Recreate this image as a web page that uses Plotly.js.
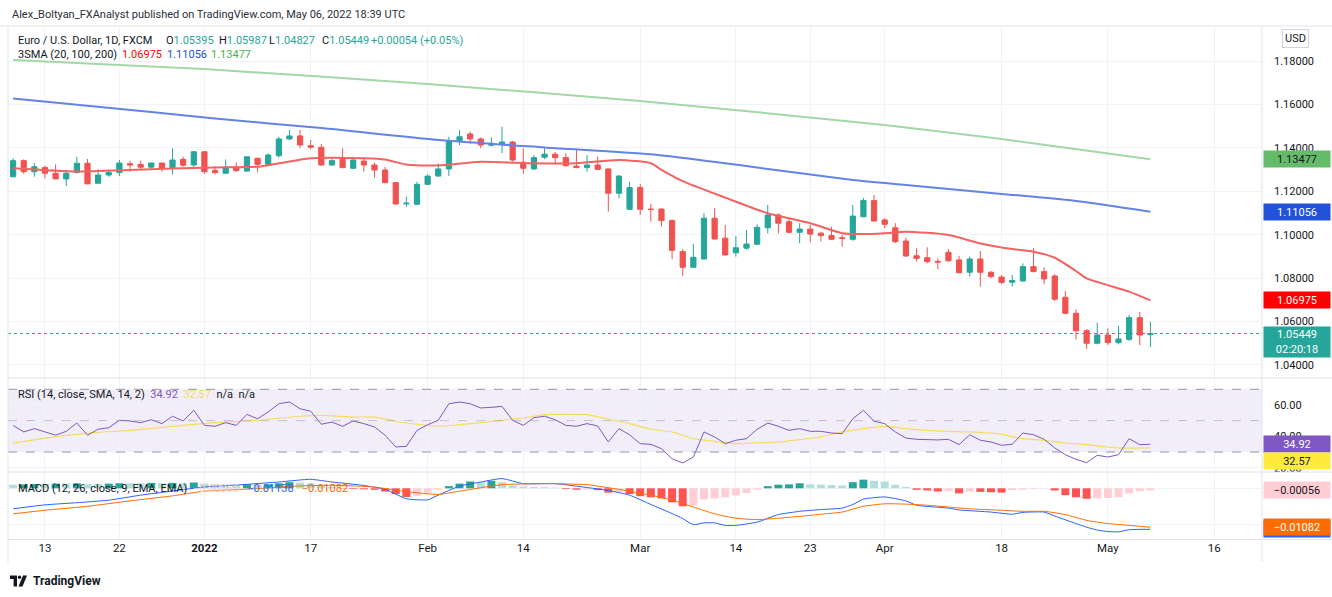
<!DOCTYPE html>
<html><head><meta charset="utf-8">
<script src="https://cdn.plot.ly/plotly-3.0.1.min.js"></script>
<style>html,body{margin:0;padding:0;background:#fff;}#chart{width:1332px;height:597px;}</style>
</head><body><div id="chart"></div>
<script>
const dates = [
'2021-12-08','2021-12-09','2021-12-10',
'2021-12-13','2021-12-14','2021-12-15','2021-12-16','2021-12-17',
'2021-12-20','2021-12-21','2021-12-22','2021-12-23','2021-12-24',
'2021-12-27','2021-12-28','2021-12-29','2021-12-30','2021-12-31',
'2022-01-03','2022-01-04','2022-01-05','2022-01-06','2022-01-07',
'2022-01-10','2022-01-11','2022-01-12','2022-01-13','2022-01-14',
'2022-01-17','2022-01-18','2022-01-19','2022-01-20','2022-01-21',
'2022-01-24','2022-01-25','2022-01-26','2022-01-27','2022-01-28',
'2022-01-31','2022-02-01','2022-02-02','2022-02-03','2022-02-04',
'2022-02-07','2022-02-08','2022-02-09','2022-02-10','2022-02-11',
'2022-02-14','2022-02-15','2022-02-16','2022-02-17','2022-02-18',
'2022-02-21','2022-02-22','2022-02-23','2022-02-24','2022-02-25',
'2022-02-28','2022-03-01','2022-03-02','2022-03-03','2022-03-04',
'2022-03-07','2022-03-08','2022-03-09','2022-03-10','2022-03-11',
'2022-03-14','2022-03-15','2022-03-16','2022-03-17','2022-03-18',
'2022-03-21','2022-03-22','2022-03-23','2022-03-24','2022-03-25',
'2022-03-28','2022-03-29','2022-03-30','2022-03-31','2022-04-01',
'2022-04-04','2022-04-05','2022-04-06','2022-04-07','2022-04-08',
'2022-04-11','2022-04-12','2022-04-13','2022-04-14','2022-04-15',
'2022-04-18','2022-04-19','2022-04-20','2022-04-21','2022-04-22',
'2022-04-25','2022-04-26','2022-04-27','2022-04-28','2022-04-29',
'2022-05-02','2022-05-03','2022-05-04','2022-05-05','2022-05-06'];

const openP = [
1.1267,1.1341,1.1290,
1.1309,1.1283,1.1257,1.1286,1.1329,
1.1237,1.1275,1.1286,1.1327,1.1324,
1.1311,1.1330,1.1309,1.1347,1.1321,
1.1382,1.1296,1.1283,1.1311,1.1293,
1.1352,1.1324,1.1364,1.1441,1.1455,
1.1410,1.1403,1.1321,1.1347,1.1306,
1.1339,1.1321,1.1298,1.1240,1.1142,
1.1140,1.1232,1.1270,1.1303,1.1433,
1.1464,1.1441,1.1412,1.1418,1.1427,
1.1334,1.1303,1.1357,1.1371,1.1355,
1.1316,1.1309,1.1321,1.1303,1.1191,
1.1117,1.1217,1.1118,1.1118,1.1065,
1.0922,1.0850,1.0888,1.1076,1.0984,
1.0917,1.0938,1.0956,1.1032,1.1091,
1.1060,1.1011,1.1026,1.1007,1.0996,
1.0986,1.0979,1.1083,1.1157,1.1068,
1.1032,1.0971,1.0903,1.0894,1.0877,
1.0919,1.0884,1.0827,1.0888,1.0827,
1.0805,1.0781,1.0787,1.0853,1.0830,
1.0810,1.0712,1.0638,1.0558,1.0500,
1.0538,1.0503,1.0518,1.0618,1.05395];

const highP = [
1.1352,1.1347,1.1330,
1.1318,1.1324,1.1298,1.1359,1.1349,
1.1301,1.1301,1.1344,1.1341,1.1341,
1.1332,1.1332,1.1398,1.1359,1.1386,
1.1386,1.1316,1.1347,1.1332,1.1359,
1.1355,1.1375,1.1451,1.1482,1.1482,
1.1436,1.1418,1.1357,1.1398,1.1359,
1.1352,1.1332,1.1313,1.1244,1.1175,
1.1244,1.1277,1.1329,1.1451,1.1482,
1.1476,1.1448,1.1448,1.1497,1.1432,
1.1398,1.1367,1.1398,1.1382,1.1375,
1.1390,1.1367,1.1359,1.1306,1.1275,
1.1244,1.1234,1.1142,1.1124,1.1071,
1.0934,1.0957,1.1099,1.1122,1.1045,
1.0994,1.1022,1.1048,1.1137,1.1099,
1.1071,1.1053,1.1045,1.1014,1.1037,
1.0999,1.1137,1.1170,1.1183,1.1076,
1.1053,1.0986,1.0937,1.0942,1.0891,
1.0934,1.0903,1.0899,1.0925,1.0833,
1.0815,1.0815,1.0868,1.0937,1.0850,
1.0818,1.0741,1.0657,1.0565,1.0595,
1.0569,1.0580,1.0630,1.0645,1.05987];

const lowP = [
1.1264,1.1280,1.1267,
1.1260,1.1255,1.1224,1.1283,1.1234,
1.1237,1.1267,1.1270,1.1290,1.1301,
1.1301,1.1290,1.1277,1.1313,1.1306,
1.1280,1.1278,1.1280,1.1290,1.1290,
1.1288,1.1321,1.1355,1.1436,1.1398,
1.1394,1.1318,1.1318,1.1306,1.1303,
1.1290,1.1263,1.1237,1.1137,1.1129,
1.1137,1.1230,1.1268,1.1270,1.1413,
1.1418,1.1398,1.1406,1.1375,1.1336,
1.1280,1.1298,1.1349,1.1324,1.1313,
1.1306,1.1290,1.1298,1.1106,1.1168,
1.1114,1.1091,1.1060,1.1037,1.0887,
1.0810,1.0850,1.0888,1.0980,1.0903,
1.0899,1.0930,1.0953,1.1006,1.1006,
1.1006,1.0961,1.0965,1.0968,1.0976,
1.0945,1.0972,1.1080,1.1060,1.1030,
1.0961,1.0899,1.0876,1.0868,1.0841,
1.0876,1.0822,1.0807,1.0761,1.0799,
1.0772,1.0761,1.0784,1.0827,1.0772,
1.0695,1.0635,1.0518,1.0474,1.0495,
1.0492,1.0495,1.0510,1.0492,1.04827];

const closeP = [
1.1341,1.1290,1.1313,
1.1283,1.1257,1.1283,1.1329,1.1234,
1.1275,1.1286,1.1330,1.1321,1.1311,
1.1330,1.1306,1.1344,1.1320,1.1382,
1.1290,1.1286,1.1311,1.1295,1.1359,
1.1324,1.1367,1.1441,1.1455,1.1413,
1.1403,1.1321,1.1341,1.1309,1.1344,
1.1321,1.1298,1.1240,1.1142,1.1145,
1.1232,1.1270,1.1303,1.1433,1.1451,
1.1441,1.1413,1.1421,1.1427,1.1344,
1.1306,1.1355,1.1371,1.1355,1.1318,
1.1309,1.1321,1.1301,1.1191,1.1270,
1.1217,1.1117,1.1116,1.1065,1.0928,
1.0850,1.0896,1.1076,1.0980,1.0907,
1.0940,1.0957,1.1034,1.1091,1.1053,
1.1011,1.1026,1.1003,1.0996,1.0979,
1.0983,1.1086,1.1157,1.1063,1.1048,
1.0968,1.0902,1.0891,1.0876,1.0874,
1.0880,1.0825,1.0888,1.0827,1.0807,
1.0780,1.0789,1.0853,1.0830,1.0796,
1.0703,1.0638,1.0558,1.0500,1.0538,
1.0503,1.0520,1.0618,1.0538,1.05449];

const sma20Dates = ['2021-12-08','2021-12-16','2021-12-23','2021-12-29','2022-01-04','2022-01-10','2022-01-17','2022-01-24','2022-01-26','2022-01-28','2022-02-02','2022-02-08','2022-02-15','2022-02-21','2022-02-25','2022-03-02','2022-03-03','2022-03-07','2022-03-11','2022-03-17','2022-03-23','2022-03-28','2022-03-30','2022-04-01','2022-04-05','2022-04-11','2022-04-14','2022-04-19','2022-04-21','2022-04-25','2022-04-27','2022-04-28','2022-05-02','2022-05-04','2022-05-06'];
const sma20 = [1.1306,1.1291,1.1298,1.1305,1.1310,1.1313,1.1352,1.1352,1.1346,1.1323,1.1319,1.1336,1.1329,1.1329,1.1344,1.1329,1.1299,1.1247,1.1171,1.1099,1.1053,1.1007,1.1003,1.1007,1.1014,1.0999,1.0960,1.0934,1.0922,1.0894,1.0833,1.0799,1.0768,1.0738,1.06975];

const sma100Dates = ['2021-12-08','2021-12-27','2022-01-04','2022-01-18','2022-02-02','2022-02-16','2022-03-02','2022-03-15','2022-03-29','2022-04-05','2022-04-18','2022-04-27','2022-05-06'];
const sma100 = [1.1627,1.1565,1.1535,1.1491,1.1436,1.1402,1.1370,1.1316,1.1252,1.1229,1.1188,1.1155,1.11056];

const sma200Dates = ['2021-12-08','2022-01-03','2022-02-01','2022-03-01','2022-04-01','2022-04-18','2022-05-06'];
const sma200 = [1.1805,1.1763,1.1694,1.1616,1.1505,1.1441,1.13477];

const rsi = [
47.0,42.8,44.9,
42.8,40.7,43.2,48.5,40.7,
44.5,45.5,50.2,49.8,48.7,
50.6,48.1,52.8,49.8,56.6,
47.0,46.4,48.7,47.0,54.0,
51.2,55.5,60.8,61.9,57.6,
56.0,47.7,49.1,46.4,49.8,
48.1,46.0,40.7,33.2,33.6,
43.8,47.4,50.2,60.8,61.9,
60.8,58.1,58.5,59.1,50.2,
47.0,51.9,52.8,50.6,47.0,
46.4,48.1,46.6,36.4,44.9,
41.0,35.3,34.9,32.1,25.7,
23.0,26.8,42.8,39.6,35.3,
37.5,38.5,44.5,48.5,46.4,
43.8,44.9,43.2,43.2,42.1,
41.7,51.2,56.6,49.6,48.1,
42.8,38.9,38.1,37.7,37.7,
38.1,34.7,41.0,37.5,36.4,
34.3,34.9,42.1,41.0,38.1,
32.6,28.3,25.3,23.2,27.9,
26.8,28.3,38.5,34.7,34.92];

const rsiSmaDates = ['2021-12-08','2021-12-13','2021-12-17','2021-12-23','2021-12-29','2022-01-04','2022-01-10','2022-01-14','2022-01-18','2022-01-21','2022-01-25','2022-01-27','2022-01-31','2022-02-02','2022-02-04','2022-02-08','2022-02-10','2022-02-14','2022-02-16','2022-02-18','2022-02-22','2022-02-24','2022-02-28','2022-03-02','2022-03-04','2022-03-08','2022-03-10','2022-03-14','2022-03-16','2022-03-18','2022-03-22','2022-03-24','2022-03-28','2022-03-30','2022-04-01','2022-04-05','2022-04-07','2022-04-11','2022-04-13','2022-04-18','2022-04-20','2022-04-22','2022-04-26','2022-04-28','2022-05-02','2022-05-03','2022-05-06'];
const rsiSma = [35.7,38.9,42.1,43.8,46.4,48.7,50.2,52.8,53.4,52.3,52.3,49.6,47.7,46.6,47.4,48.7,50.2,51.7,53.8,54.0,53.8,50.9,48.1,44.5,42.8,38.5,36.8,35.3,35.9,36.4,37.9,39.6,42.8,44.9,46.4,44.9,43.8,43.2,42.8,41.3,38.5,37.5,35.7,34.7,33.2,32.6,32.57];

const macdHist = [
0.0010,0.0011,0.0012,
0.0012,0.0013,0.0013,0.0014,0.0012,
0.0012,0.0013,0.0014,0.0014,0.0014,
0.0015,0.0014,0.0015,0.0014,0.0016,
0.0013,0.0011,0.0010,0.0009,0.0011,
0.0010,0.0011,0.0014,0.0017,0.0016,
0.0014,0.0008,0.0004,-0.0001,-0.0002,
-0.0003,-0.0004,-0.0009,-0.0016,-0.0024,
-0.0021,-0.0012,-0.0004,0.0006,0.0013,
0.0019,0.0017,0.0021,0.0017,0.0008,
0.0005,0.0004,0.0003,0.0002,-0.0002,
-0.0004,-0.0003,-0.0005,-0.0012,-0.0010,
-0.0016,-0.0022,-0.0025,-0.0028,-0.0039,
-0.0050,-0.0048,-0.0031,-0.0028,-0.0025,
-0.0020,-0.0013,-0.0004,0.0006,0.0010,
0.0011,0.0014,0.0011,0.0010,0.0009,
0.0008,0.0017,0.0024,0.0021,0.0019,
0.0010,0.0004,-0.0004,-0.0006,-0.0009,
-0.0008,-0.0014,-0.0009,-0.0010,-0.0011,
-0.0012,-0.0005,-0.0004,-0.0002,-0.0001,
-0.0006,-0.0019,-0.0025,-0.0029,-0.0028,
-0.0027,-0.0025,-0.0014,-0.0008,-0.00056];

const macdDates = ['2021-12-08','2021-12-13','2021-12-16','2021-12-21','2021-12-24','2021-12-29','2022-01-03','2022-01-07','2022-01-12','2022-01-17','2022-01-19','2022-01-24','2022-01-26','2022-01-28','2022-02-01','2022-02-02','2022-02-04','2022-02-08','2022-02-10','2022-02-14','2022-02-17','2022-02-21','2022-02-24','2022-02-28','2022-03-02','2022-03-04','2022-03-07','2022-03-08','2022-03-09','2022-03-10','2022-03-11','2022-03-14','2022-03-16','2022-03-18','2022-03-22','2022-03-24','2022-03-28','2022-03-29','2022-03-30','2022-04-01','2022-04-05','2022-04-06','2022-04-11','2022-04-12','2022-04-15','2022-04-19','2022-04-20','2022-04-22','2022-04-25','2022-04-27','2022-04-28','2022-04-29','2022-05-02','2022-05-03','2022-05-04','2022-05-06'];
const macdLine = [-0.0057,-0.0046,-0.0040,-0.0033,-0.0019,-0.00075,0.00036,0.0011,0.00175,0.0025,0.00175,0.0008,-0.0003,-0.0029,-0.0032,-0.0019,0.0006,0.00175,0.0027,0.0013,0.0013,0.0006,-0.0006,-0.0019,-0.0045,-0.0070,-0.0084,-0.0101,-0.0096,-0.0096,-0.0103,-0.0103,-0.0094,-0.0073,-0.0064,-0.0059,-0.0055,-0.0045,-0.0030,-0.0024,-0.0035,-0.0047,-0.0055,-0.0060,-0.0066,-0.0072,-0.0067,-0.0066,-0.0077,-0.0098,-0.0108,-0.0116,-0.0120,-0.0121,-0.0115,-0.01138];

const signalDates = ['2021-12-08','2021-12-13','2021-12-17','2021-12-23','2021-12-29','2022-01-03','2022-01-10','2022-01-13','2022-01-19','2022-01-25','2022-01-27','2022-02-02','2022-02-04','2022-02-10','2022-02-16','2022-02-22','2022-02-25','2022-03-02','2022-03-04','2022-03-08','2022-03-10','2022-03-14','2022-03-16','2022-03-18','2022-03-22','2022-03-24','2022-03-28','2022-03-30','2022-04-01','2022-04-05','2022-04-07','2022-04-11','2022-04-13','2022-04-18','2022-04-20','2022-04-22','2022-04-26','2022-04-28','2022-05-02','2022-05-04','2022-05-06'];
const signalLine = [-0.0071,-0.0061,-0.0050,-0.0035,-0.0021,-0.0008,-0.0001,0.00056,0.00083,0.00036,-0.00056,-0.0017,-0.0008,0.0010,0.0013,0.0010,-0.0003,-0.0019,-0.0033,-0.0052,-0.0071,-0.0083,-0.0087,-0.0083,-0.0078,-0.0072,-0.0066,-0.0050,-0.0043,-0.0044,-0.0047,-0.0052,-0.0057,-0.0061,-0.0064,-0.0064,-0.0073,-0.0089,-0.0098,-0.0103,-0.01082];

const tickDates = ['2021-12-13','2021-12-22','2022-01-03','2022-01-17','2022-02-01','2022-02-14','2022-03-01','2022-03-14','2022-03-23','2022-04-01','2022-04-18','2022-05-02','2022-05-16'];
const tickLabels = ['13','22','<b>2022</b>','17','Feb','14','Mar','14','23','Apr','18','May','16'];
const priceTicks = [1.04,1.06,1.08,1.10,1.12,1.14,1.16,1.18];
const rsiTicks = [20,40,60];
const macdTicks = [0,-0.01];

// ---------- geometry helpers (pixel -> paper) ----------
const L=8, R=1262, T=27, B=539, W=R-L, H=B-T;
const px = x => (x-L)/W;
const py = y => (B-y)/H;
const noon = d => d + ' 12:00';
const FONT = 'Roboto, "Open Sans", sans-serif';
const TXT = '#131722';

const histColors = macdHist.map((h,i) => {
  const p = i>0 ? macdHist[i-1] : h;
  if (h >= 0) return h > p ? '#26a69a' : '#b2dfdb';
  return h > p ? '#ffcdd2' : '#ff5252';
});

const traces = [
  {type:'candlestick', x:dates.map(noon), open:openP, high:highP, low:lowP, close:closeP,
   increasing:{line:{color:'#26a69a',width:1}, fillcolor:'#26a69a'},
   decreasing:{line:{color:'#ef5350',width:1}, fillcolor:'#ef5350'},
   whiskerwidth:0, xaxis:'x', yaxis:'y', hoverinfo:'skip', showlegend:false},
  {type:'scatter', mode:'lines', x:sma200Dates.map(noon), y:sma200, line:{color:'#a3d7a5',width:2,shape:'spline',smoothing:0.6}, xaxis:'x', yaxis:'y', hoverinfo:'skip'},
  {type:'scatter', mode:'lines', x:sma100Dates.map(noon), y:sma100, line:{color:'#6483e6',width:2,shape:'spline',smoothing:0.6}, xaxis:'x', yaxis:'y', hoverinfo:'skip'},
  {type:'scatter', mode:'lines', x:sma20Dates.map(noon), y:sma20, line:{color:'#f46262',width:2,shape:'spline',smoothing:0.6}, xaxis:'x', yaxis:'y', hoverinfo:'skip'},
  {type:'scatter', mode:'lines', x:rsiSmaDates.map(noon), y:rsiSma, line:{color:'#f6dc5c',width:1.2,shape:'spline',smoothing:0.6}, xaxis:'x', yaxis:'y2', hoverinfo:'skip'},
  {type:'scatter', mode:'lines', x:dates.map(noon), y:rsi, line:{color:'#7e57c2',width:1}, xaxis:'x', yaxis:'y2', hoverinfo:'skip'},
  {type:'bar', x:dates.map(noon), y:macdHist, marker:{color:histColors, line:{width:0}}, xaxis:'x', yaxis:'y3', hoverinfo:'skip'},
  {type:'scatter', mode:'lines', x:macdDates.map(noon), y:macdLine, line:{color:'#2962ff',width:1,shape:'spline',smoothing:0.5}, xaxis:'x', yaxis:'y3', hoverinfo:'skip'},
  {type:'scatter', mode:'lines', x:signalDates.map(noon), y:signalLine, line:{color:'#ff6d00',width:1,shape:'spline',smoothing:0.5}, xaxis:'x', yaxis:'y3', hoverinfo:'skip'}
];

function txt(x, y, text, size, color, extra) {
  return Object.assign({xref:'paper', yref:'paper', x:px(x), y:py(y), text:text, showarrow:false,
    xanchor:'left', yanchor:'middle', font:{family:FONT, size:size||11, color:color||TXT}}, extra||{});
}
function box(yref, val, text, bg, fg, shift, h) {
  return {xref:'paper', x:1, xanchor:'left', xshift:1, yref:yref, y:val, yanchor:'middle', yshift:shift||0,
    text:text, bgcolor:bg, font:{family:FONT, size:11, color:fg}, width:66, height:h||16,
    showarrow:false, borderpad:0, align:'center', valign:'middle'};
}
const up = '#26a69a';
const LF = 11;
const annotations = [
  txt(10, 14, 'Alex_Boltyan_FXAnalyst published on TradingView.com, May 06, 2022 18:39 UTC', 11, '#2a2e39'),
  txt(16, 40, 'Euro / U.S. Dollar, 1D, FXCM', LF),
  txt(164, 40, 'O<span style="color:'+up+'">1.05395</span>', LF),
  txt(217, 40, 'H<span style="color:'+up+'">1.05987</span>', LF),
  txt(267, 40, 'L<span style="color:'+up+'">1.04827</span>', LF),
  txt(320, 40, 'C<span style="color:'+up+'">1.05449</span>', LF),
  txt(369, 40, '<span style="color:'+up+'">+0.00054 (+0.05%)</span>', LF),
  txt(16, 54, '3SMA (20, 100, 200)', LF),
  txt(120, 54, '<span style="color:#ff0000">1.06975</span>', LF),
  txt(165, 54, '<span style="color:#2152d9">1.11056</span>', LF),
  txt(209, 54, '<span style="color:#4caf50">1.13477</span>', LF),
  txt(16, 394, 'RSI (14, close, SMA, 14, 2)&nbsp;&nbsp;<span style="color:#7e57c2">34.92</span>&nbsp;&nbsp;<span style="color:#f6dc5c">32.57</span>&nbsp;&nbsp;n/a&nbsp;&nbsp;n/a', LF),
  txt(16, 488, 'MACD (12, 26, close, 9, EMA, EMA)&nbsp;&nbsp;<span style="color:#ffcdd2">\u22120.00056</span>&nbsp;&nbsp;&nbsp;<span style="color:#2962ff">\u22120.01138</span>&nbsp;&nbsp;&nbsp;<span style="color:#ff6d00">\u22120.01082</span>', LF),
  {xref:'paper', yref:'paper', x:px(1295), y:py(38), text:'USD', showarrow:false, xanchor:'center', yanchor:'middle',
   font:{family:FONT, size:11, color:TXT}, bordercolor:'#d1d4dc', borderwidth:1, borderpad:2, bgcolor:'#ffffff'},
  box('y', 1.13477, '1.13477', '#66bb6a', TXT),
  box('y', 1.11056, '1.11056', '#2152d9', '#ffffff'),
  box('y', 1.06975, '1.06975', '#ff0000', '#ffffff'),
  Object.assign(box('y', 1.05449, '1.05449<br>02:20:18', '#26a69a', '#ffffff', 0, 30), {yanchor:'top', yshift:8}),
  box('y2', 34.92, '34.92', '#7e57c2', '#ffffff'),
  box('y2', 32.57, '32.57', '#ffeb3b', TXT, -13),
  box('y3', -0.00056, '\u22120.00056', '#ffcdd2', TXT),
  box('y3', -0.01138, '', '#2962ff', '#ffffff'),
  box('y3', -0.01082, '\u22120.01082', '#ff6d00', '#ffffff'),
  txt(31, 581, '<b>TradingView</b>', 12, TXT)
];

const sepColor = '#e0e3eb';
const shapes = [
  {type:'rect', xref:'paper', x0:0, x1:1, yref:'y2', y0:30, y1:70, fillcolor:'rgba(126,87,194,0.1)', line:{width:0}, layer:'below'},
  {type:'line', xref:'paper', x0:0, x1:1, yref:'y2', y0:70, y1:70, line:{color:'#9598a1', width:1, dash:'dash'}},
  {type:'line', xref:'paper', x0:0, x1:1, yref:'y2', y0:50, y1:50, line:{color:'rgba(149,152,161,0.5)', width:1, dash:'dash'}},
  {type:'line', xref:'paper', x0:0, x1:1, yref:'y2', y0:30, y1:30, line:{color:'#9598a1', width:1, dash:'dash'}},
  {type:'line', xref:'paper', x0:0, x1:1, yref:'y', y0:1.05449, y1:1.05449, line:{color:'#26a69a', width:1, dash:'dot'}},
  {type:'line', xref:'paper', yref:'paper', x0:px(0), x1:px(1332), y0:py(26), y1:py(26), line:{color:sepColor, width:1}},
  {type:'line', xref:'paper', yref:'paper', x0:px(8), x1:px(1332), y0:py(378), y1:py(378), line:{color:sepColor, width:1}},
  {type:'line', xref:'paper', yref:'paper', x0:px(8), x1:px(1332), y0:py(472), y1:py(472), line:{color:sepColor, width:1}},
  {type:'line', xref:'paper', yref:'paper', x0:px(8), x1:px(1332), y0:py(539.5), y1:py(539.5), line:{color:sepColor, width:1}},
  {type:'line', xref:'paper', yref:'paper', x0:px(1262), x1:px(1262), y0:py(26), y1:py(562), line:{color:sepColor, width:1}},
  {type:'line', xref:'paper', yref:'paper', x0:px(8), x1:px(8), y0:py(26), y1:py(562), line:{color:sepColor, width:1}},
  // TradingView logo
  {type:'path', xref:'paper', yref:'paper', path:
    'M '+px(10)+','+py(575.5)+' L '+px(17)+','+py(575.5)+' L '+px(17)+','+py(586.5)+' L '+px(13.6)+','+py(586.5)+' L '+px(13.6)+','+py(579)+' L '+px(10)+','+py(579)+' Z',
    fillcolor:TXT, line:{width:0}},
  {type:'circle', xref:'paper', yref:'paper', x0:px(17.8), x1:px(21.2), y0:py(575.5), y1:py(578.9), fillcolor:TXT, line:{width:0}},
  {type:'path', xref:'paper', yref:'paper', path:
    'M '+px(23)+','+py(575.5)+' L '+px(27)+','+py(575.5)+' L '+px(22.5)+','+py(586.5)+' L '+px(18.5)+','+py(586.5)+' Z',
    fillcolor:TXT, line:{width:0}}
];

const axFont = {family:FONT, size:11, color:TXT};
const layout = {
  width:1332, height:597,
  margin:{l:L, r:1332-R, t:T, b:597-B, pad:0},
  paper_bgcolor:'#ffffff', plot_bgcolor:'#ffffff',
  showlegend:false, bargap:0.25, dragmode:false,
  font:{family:FONT, color:TXT},
  xaxis:{type:'date', domain:[0,1], anchor:'y3',
    range:['2021-12-08 00:30','2022-05-20 23:59'],
    rangebreaks:[{bounds:['sat','mon']}],
    rangeslider:{visible:false},
    tickmode:'array', tickvals:tickDates.map(noon), ticktext:tickLabels,
    showgrid:true, gridcolor:'#f0f3fa', gridwidth:1,
    showline:false, ticks:'', tickfont:{family:FONT, size:11.5, color:TXT}, zeroline:false, automargin:false},
  yaxis:{domain:[py(378),1], anchor:'x', side:'right', range:[1.03401,1.19566],
    tickmode:'array', tickvals:priceTicks, tickformat:'.5f', ticks:'', ticklabelstandoff:11,
    showgrid:true, gridcolor:'#f0f3fa', zeroline:false, tickfont:axFont, automargin:false},
  yaxis2:{domain:[py(472),py(378)], anchor:'x', side:'right', range:[17.24,77.21],
    tickmode:'array', tickvals:rsiTicks, tickformat:'.2f', ticks:'', ticklabelstandoff:11,
    showgrid:true, gridcolor:'#f0f3fa', zeroline:false, tickfont:axFont, automargin:false},
  yaxis3:{domain:[0,py(472)], anchor:'x', side:'right', range:[-0.014083,0.004528],
    tickmode:'array', tickvals:macdTicks, showticklabels:false, ticks:'',
    showgrid:true, gridcolor:'#f0f3fa', zeroline:false, automargin:false},
  annotations:annotations,
  shapes:shapes
};

Plotly.newPlot('chart', traces, layout, {staticPlot:true, displayModeBar:false});
</script>
</body></html>
